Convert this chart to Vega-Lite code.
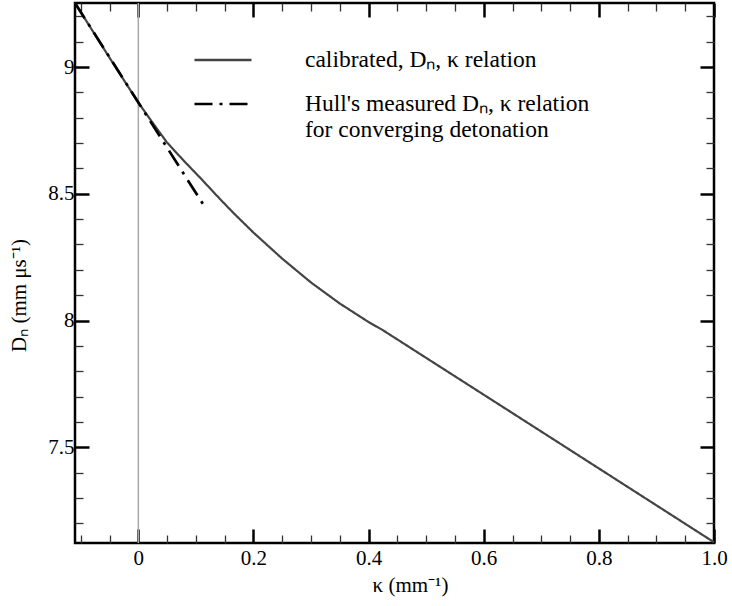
{
  "$schema": "https://vega.github.io/schema/vega-lite/v6.json",
  "width": 639,
  "height": 540,
  "autosize": {"type": "none"},
  "padding": {"left": 75, "top": 3, "right": 18, "bottom": 63},
  "background": "white",
  "config": {
    "view": {"stroke": "black", "strokeWidth": 2.5},
    "font": "Liberation Serif, Times New Roman, serif",
    "style": {
      "guide-label": {"font": "Liberation Serif, Times New Roman, serif", "fontSize": 21, "fill": "black"},
      "guide-title": {"font": "Liberation Serif, Times New Roman, serif", "fontSize": 21, "fontWeight": "normal", "fill": "black"}
    },
    "axis": {
      "domain": false,
      "grid": false,
      "labelFont": "Liberation Serif, Times New Roman, serif",
      "labelFontSize": 21,
      "labelColor": "black",
      "titleFont": "Liberation Serif, Times New Roman, serif",
      "titleFontSize": 21,
      "titleFontWeight": "normal",
      "titleColor": "black",
      "tickColor": "black",
      "labelOverlap": false,
      "labelFlush": false
    },
    "legend": {
      "orient": "none",
      "legendX": 118,
      "legendY": 27,
      "title": null,
      "symbolType": "stroke",
      "symbolSize": 3249,
      "symbolStrokeWidth": 2.7,
      "labelFont": "Liberation Serif, Times New Roman, serif",
      "labelFontSize": 23.5,
      "labelColor": "black",
      "labelOffset": 52,
      "labelLimit": 500,
      "rowPadding": 2
    }
  },
  "datasets": {
    "curves": [
      {"series": "calibrated", "k": -0.11, "D": 9.253},
      {"series": "calibrated", "k": -0.05, "D": 9.037},
      {"series": "calibrated", "k": 0.0, "D": 8.86},
      {"series": "calibrated", "k": 0.025, "D": 8.78},
      {"series": "calibrated", "k": 0.05, "D": 8.702},
      {"series": "calibrated", "k": 0.08, "D": 8.628},
      {"series": "calibrated", "k": 0.108, "D": 8.562},
      {"series": "calibrated", "k": 0.142, "D": 8.479},
      {"series": "calibrated", "k": 0.165, "D": 8.425},
      {"series": "calibrated", "k": 0.2, "D": 8.347},
      {"series": "calibrated", "k": 0.25, "D": 8.244},
      {"series": "calibrated", "k": 0.3, "D": 8.15},
      {"series": "calibrated", "k": 0.35, "D": 8.067},
      {"series": "calibrated", "k": 0.4, "D": 7.994},
      {"series": "calibrated", "k": 0.424, "D": 7.963},
      {"series": "calibrated", "k": 0.715, "D": 7.54},
      {"series": "calibrated", "k": 1.0, "D": 7.125},
      {"series": "hull", "k": -0.11, "D": 9.253},
      {"series": "hull", "k": 0.115, "D": 8.45}
    ],
    "zeroline": [{"k": 0}]
  },
  "layer": [
    {
      "data": {"name": "zeroline"},
      "mark": {"type": "rule", "color": "#a8a8a8", "strokeWidth": 1.5},
      "encoding": {
        "x": {
          "field": "k", "type": "quantitative",
          "scale": {"domain": [-0.11, 1.0], "nice": false, "zero": false},
          "axis": {
            "orient": "bottom",
            "values": [0, 0.2, 0.4, 0.6, 0.8, 1.0],
            "labelExpr": "datum.value == 0 ? '0' : format(datum.value, '.1f')",
            "labelFont": "Liberation Serif, Times New Roman, serif", "labelFontSize": 21, "labelColor": "black",
            "tickSize": -14, "tickWidth": 2.5,
            "labelPadding": 18,
            "title": "κ (mm⁻¹)",
            "titleFont": "Liberation Serif, Times New Roman, serif", "titleFontSize": 21, "titleFontWeight": "normal", "titleColor": "black",
            "titlePadding": 6,
            "titleX": 335
          }
        }
      }
    },
    {
      "data": {"name": "curves"},
      "transform": [{"filter": "datum.series == 'calibrated'"}],
      "mark": {"type": "line", "strokeWidth": 2.2},
      "encoding": {
        "x": {
          "field": "k", "type": "quantitative",
          "scale": {"domain": [-0.11, 1.0], "nice": false, "zero": false},
          "axis": {
            "orient": "bottom",
            "values": [-0.1, -0.05, 0.05, 0.1, 0.15, 0.25, 0.3, 0.35, 0.45, 0.5, 0.55, 0.65, 0.7, 0.75, 0.85, 0.9, 0.95],
            "labels": false, "title": null,
            "tickSize": -8, "tickWidth": 1.3, "tickColor": "#333"
          }
        },
        "y": {
          "field": "D", "type": "quantitative",
          "scale": {"domain": [7.122, 9.253], "nice": false, "zero": false},
          "axis": {
            "orient": "left",
            "values": [7.5, 8, 8.5, 9],
            "labelExpr": "datum.value % 1 == 0 ? format(datum.value, 'd') : format(datum.value, '.1f')",
            "labelFont": "Liberation Serif, Times New Roman, serif", "labelFontSize": 21, "labelColor": "black",
            "tickSize": -14, "tickWidth": 2.5,
            "labelPadding": 15,
            "title": "Dₙ (mm μs⁻¹)",
            "titleFont": "Liberation Serif, Times New Roman, serif", "titleFontSize": 21, "titleFontWeight": "normal", "titleColor": "black",
            "titlePadding": 18,
            "titleY": 292
          }
        },
        "color": {
          "field": "series", "type": "nominal",
          "scale": {"domain": ["calibrated", "hull"], "range": ["#444444", "#000000"]},
          "legend": {
            "labelExpr": "datum.value == 'calibrated' ? 'calibrated, Dₙ, κ relation' : ['Hull\\'s measured Dₙ, κ relation', 'for converging detonation']"
          }
        },
        "strokeDash": {
          "field": "series", "type": "nominal",
          "scale": {"domain": ["calibrated", "hull"], "range": [[1, 0], [18, 7, 3, 7]]},
          "legend": {
            "labelExpr": "datum.value == 'calibrated' ? 'calibrated, Dₙ, κ relation' : ['Hull\\'s measured Dₙ, κ relation', 'for converging detonation']"
          }
        }
      }
    },
    {
      "data": {"name": "curves"},
      "transform": [{"filter": "datum.series == 'hull'"}],
      "mark": {"type": "line", "strokeWidth": 2.7},
      "encoding": {
        "x": {
          "field": "k", "type": "quantitative",
          "scale": {"domain": [-0.11, 1.0], "nice": false, "zero": false},
          "axis": {
            "orient": "top",
            "values": [0, 0.2, 0.4, 0.6, 0.8, 1.0],
            "labels": false, "title": null,
            "tickSize": -14, "tickWidth": 2.5
          }
        },
        "y": {
          "field": "D", "type": "quantitative",
          "scale": {"domain": [7.122, 9.253], "nice": false, "zero": false},
          "axis": {
            "orient": "left",
            "values": [7.2, 7.3, 7.4, 7.6, 7.7, 7.8, 7.9, 8.1, 8.2, 8.3, 8.4, 8.6, 8.7, 8.8, 8.9, 9.1, 9.2],
            "labels": false, "title": null,
            "tickSize": -8, "tickWidth": 1.3, "tickColor": "#333"
          }
        },
        "color": {
          "field": "series", "type": "nominal",
          "scale": {"domain": ["calibrated", "hull"], "range": ["#444444", "#000000"]}
        },
        "strokeDash": {
          "field": "series", "type": "nominal",
          "scale": {"domain": ["calibrated", "hull"], "range": [[1, 0], [18, 7, 3, 7]]}
        }
      }
    },
    {
      "data": {"name": "curves"},
      "mark": {"type": "point", "opacity": 0},
      "encoding": {
        "x": {
          "field": "k", "type": "quantitative",
          "scale": {"domain": [-0.11, 1.0], "nice": false, "zero": false},
          "axis": {
            "orient": "top",
            "values": [-0.1, -0.05, 0.05, 0.1, 0.15, 0.25, 0.3, 0.35, 0.45, 0.5, 0.55, 0.65, 0.7, 0.75, 0.85, 0.9, 0.95],
            "labels": false, "title": null,
            "tickSize": -8, "tickWidth": 1.3, "tickColor": "#333"
          }
        },
        "y": {
          "field": "D", "type": "quantitative",
          "scale": {"domain": [7.122, 9.253], "nice": false, "zero": false},
          "axis": {
            "orient": "right",
            "values": [7.5, 8, 8.5, 9],
            "labels": false, "title": null,
            "tickSize": -14, "tickWidth": 2.5
          }
        }
      }
    },
    {
      "data": {"name": "curves"},
      "mark": {"type": "point", "opacity": 0},
      "encoding": {
        "x": {
          "field": "k", "type": "quantitative",
          "scale": {"domain": [-0.11, 1.0], "nice": false, "zero": false},
          "axis": null
        },
        "y": {
          "field": "D", "type": "quantitative",
          "scale": {"domain": [7.122, 9.253], "nice": false, "zero": false},
          "axis": {
            "orient": "right",
            "values": [7.2, 7.3, 7.4, 7.6, 7.7, 7.8, 7.9, 8.1, 8.2, 8.3, 8.4, 8.6, 8.7, 8.8, 8.9, 9.1, 9.2],
            "labels": false, "title": null,
            "tickSize": -8, "tickWidth": 1.3, "tickColor": "#333"
          }
        }
      }
    }
  ],
  "resolve": {"axis": {"x": "independent", "y": "independent"}}
}
